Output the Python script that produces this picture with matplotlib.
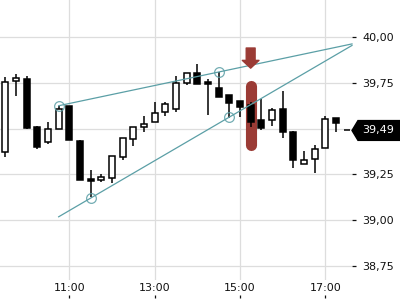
#!/usr/bin/env python3
"""Intraday 15-min candlestick chart with two trend lines and a sell marker."""

import numpy as np
import matplotlib
matplotlib.use("Agg")
import matplotlib.pyplot as plt
from matplotlib.ticker import FixedLocator, FuncFormatter

# 15-minute candles
times = ["09:30", "09:45", "10:00", "10:15", "10:30", "10:45", "11:00", "11:15",
         "11:30", "11:45", "12:00", "12:15", "12:30", "12:45", "13:00", "13:15",
         "13:30", "13:45", "14:00", "14:15", "14:30", "14:45", "15:00", "15:15",
         "15:30", "15:45", "16:00", "16:15", "16:30", "16:45", "17:00", "17:15",
         "17:30"]
opens = [39.371, 39.760, 39.771, 39.509, 39.429, 39.496, 39.623, 39.434,
         39.225, 39.218, 39.229, 39.347, 39.442, 39.507, 39.534, 39.592,
         39.607, 39.751, 39.802, 39.753, 39.720, 39.683, 39.652, 39.629,
         39.547, 39.547, 39.607, 39.480, 39.305, 39.332, 39.392, 39.556,
         39.490]
highs = [39.783, 39.796, 39.787, 39.512, 39.534, 39.625, 39.625, 39.438,
         39.274, 39.250, 39.352, 39.447, 39.507, 39.569, 39.644, 39.647,
         39.787, 39.805, 39.853, 39.771, 39.809, 39.683, 39.652, 39.644,
         39.660, 39.611, 39.707, 39.489, 39.378, 39.410, 39.569, 39.556,
         39.490]
lows = [39.347, 39.680, 39.500, 39.387, 39.416, 39.496, 39.440, 39.219,
        39.125, 39.207, 39.206, 39.329, 39.407, 39.483, 39.534, 39.570,
        39.589, 39.738, 39.742, 39.574, 39.674, 39.556, 39.565, 39.507,
        39.492, 39.514, 39.447, 39.285, 39.305, 39.259, 39.392, 39.483,
        39.490]
closes = [39.753, 39.775, 39.501, 39.401, 39.496, 39.607, 39.440, 39.219,
          39.212, 39.234, 39.352, 39.447, 39.507, 39.523, 39.584, 39.634,
          39.747, 39.802, 39.742, 39.745, 39.674, 39.641, 39.620, 39.538,
          39.505, 39.602, 39.480, 39.331, 39.327, 39.387, 39.551, 39.532,
          39.490]
last_price = 39.49

# trend line anchors (time, price) -- both start at 10:45
upper_pts = [("10:45", 39.625), ("14:30", 39.809)]
lower_pts = [("11:30", 39.121), ("14:45", 39.563)]
line_start = "10:45"

# signal: candle time, arrow (top, tip), highlight (low, high)
signal_time = "15:15"
arrow_prices = (39.94, 39.83)
pill_prices = (39.413, 39.731)

xtick_labels = ["11:00", "13:00", "15:00", "17:00"]
ytick_values = [38.75, 39.00, 39.25, 39.50, 39.75, 40.00]

TEAL = "#5b9fa6"
RED = "#9b3b35"
GRID = "#dddddd"


def to_hours(s):
    h, m = s.split(":")
    return int(h) + int(m) / 60.0


x = np.array([to_hours(t) for t in times])
o = np.array(opens)
h = np.array(highs)
l = np.array(lows)
c = np.array(closes)

fig = plt.figure(figsize=(4, 3), dpi=100)
ax = fig.add_axes([0.0, 20 / 300, 352 / 400, 280 / 300])

step = 0.25
ax.set_xlim(x[0] - step / 2, x[-1] + step / 2)
ax.set_ylim(38.674, 40.202)

# grid
for v in ytick_values:
    ax.axhline(v, color=GRID, lw=0.9, zorder=0)
for t in xtick_labels:
    ax.axvline(to_hours(t), color=GRID, lw=0.9, zorder=0)

# highlight pill behind candle
sx = to_hours(signal_time)
ax.plot([sx, sx], list(pill_prices), color=RED, lw=8, solid_capstyle="round", zorder=1)

# candles
up = c >= o
ax.vlines(x, l, h, color="black", lw=1.1, zorder=2)
body_w = 0.14
bottoms = np.minimum(o, c)
heights = np.abs(c - o)
ax.bar(x[up], heights[up], bottom=bottoms[up], width=body_w, color="white",
       edgecolor="black", linewidth=1.1, zorder=3)
ax.bar(x[~up], heights[~up], bottom=bottoms[~up], width=body_w, color="black",
       edgecolor="black", linewidth=1.1, zorder=3)

# trend lines
xr = ax.get_xlim()[1]
for pts in (upper_pts, lower_pts):
    (t0, p0), (t1, p1) = pts
    x0, x1 = to_hours(t0), to_hours(t1)
    slope = (p1 - p0) / (x1 - x0)
    xs = np.array([to_hours(line_start), xr])
    ax.plot(xs, p0 + slope * (xs - x0), color=TEAL, lw=0.9, zorder=4, clip_on=False)
    ax.plot([x0, x1], [p0, p1], "o", ms=7, mfc="none", mec=TEAL, mew=0.9,
            alpha=0.85, zorder=5)

# sell arrow
ax.annotate("", xy=(sx, arrow_prices[1]), xytext=(sx, arrow_prices[0]),
            arrowprops=dict(arrowstyle="simple,head_length=0.7,head_width=1.5,tail_width=0.8",
                            mutation_scale=8, color=RED, shrinkA=0, shrinkB=0),
            zorder=6)

# axes styling
for sp in ax.spines.values():
    sp.set_visible(False)
ax.yaxis.tick_right()
ax.yaxis.set_major_locator(FixedLocator(ytick_values))
ax.yaxis.set_major_formatter(FuncFormatter(lambda v, _: f"{v:.2f}".replace(".", ",")))
ax.tick_params(axis="y", direction="out", length=3, width=0.9, pad=4.5,
               labelsize=8, colors="#111111")
ax.xaxis.set_major_locator(FixedLocator([to_hours(t) for t in xtick_labels]))
ax.set_xticklabels(xtick_labels)
ax.tick_params(axis="x", length=0, pad=2.5, labelsize=8, colors="#111111")

# small tick marks under the time labels
sec = ax.secondary_xaxis(-18 / 280)
sec.set_xticks([to_hours(t) for t in xtick_labels])
sec.set_xticklabels([])
sec.tick_params(axis="x", direction="in", length=2.5, width=0.9, colors="#111111")
sec.spines["bottom"].set_visible(False)

# last price tag
trans = ax.get_yaxis_transform()
tag_h = 0.054
tag = plt.Polygon([[1.0, last_price], [1.017, last_price + tag_h],
                   [1.2, last_price + tag_h], [1.2, last_price - tag_h],
                   [1.017, last_price - tag_h]],
                  closed=True, color="black", transform=trans, clip_on=False, zorder=7)
ax.add_patch(tag)
ax.text(1.03, last_price, f"{last_price:.2f}".replace(".", ","), transform=trans,
        color="white", fontsize=8, va="center", ha="left", zorder=8, clip_on=False)

fig.savefig("out.png", dpi=100, facecolor="white")
